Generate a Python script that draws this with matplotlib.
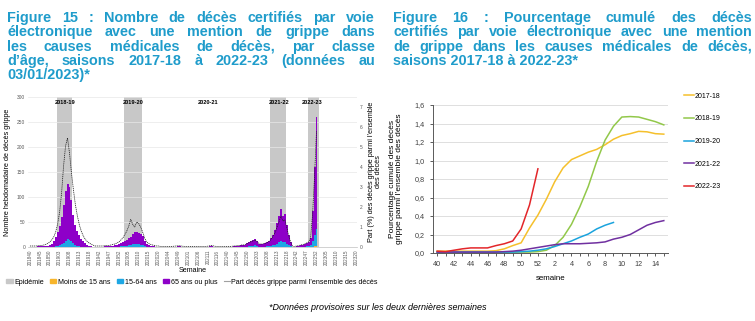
import numpy as np
import matplotlib
matplotlib.use('Agg')
from matplotlib import pyplot as plt
from matplotlib.patches import Patch
from matplotlib.lines import Line2D

plt.rcParams['font.family'] = ['Liberation Sans', 'DejaVu Sans']

TEAL = '#1f9ccb'
GREY_TXT = '#595959'

# ---------------- figure 15 : weekly deaths, 201840 -> 202252
seasons = ['2018-19', '2019-20', '2020-21', '2021-22', '2022-23']
season_label_week = ['201906', '202007', '202111', '202214', '202250']
epidemics = [('201902', '201909'), ('202003', '202011'),
             ('202210', '202217'), ('202248', '202301')]

deaths_65plus = (
    [1, 1, 1, 1, 2, 2, 2, 2, 3, 2, 4, 6, 11, 18, 27, 38, 54, 76, 99, 111, 105, 83, 57, 40, 29, 22, 16, 11, 7, 5, 3, 2, 1]
    + [1, 1, 1, 1, 1, 2, 2, 2, 3, 3, 4, 4, 5, 6, 8, 9, 12, 14, 16, 20, 23, 24, 22, 22, 18, 10, 5, 3, 3, 2, 2, 1, 1]
    + [1, 1, 0, 0, 0, 0, 0, 1, 1, 2, 2, 1, 0, 0, 0, 0, 0, 0, 0, 0, 0, 0, 0, 0, 1, 2, 3, 1, 0, 0, 0, 0, 0, 1]
    + [1, 1, 1, 2, 2, 3, 3, 4, 4, 4, 7, 8, 11, 11, 13, 10, 6, 5, 6, 7, 8, 11, 15, 21, 30, 41, 52, 65, 52, 56, 38, 21, 8]
    + [1, 1, 2, 2, 3, 4, 5, 6, 8, 14, 59, 136, 224]
)
deaths_15_64 = (
    [0, 0, 0, 0, 0, 0, 0, 0, 0, 1, 1, 1, 1, 2, 3, 4, 6, 8, 12, 15, 14, 11, 8, 5, 3, 2, 1, 1, 1, 0, 0, 0, 0]
    + [0, 0, 0, 0, 0, 0, 0, 0, 0, 0, 0, 1, 1, 2, 2, 3, 3, 4, 4, 5, 6, 6, 6, 5, 4, 2, 1, 1, 0, 0, 0, 0, 0]
    + [0] * 34
    + [0, 0, 0, 0, 0, 0, 0, 0, 0, 1, 1, 2, 2, 2, 3, 2, 1, 1, 1, 1, 2, 2, 3, 4, 5, 7, 9, 11, 10, 10, 7, 4, 2]
    + [0, 0, 0, 1, 1, 1, 1, 2, 2, 4, 12, 22, 33]
)
deaths_under15 = (
    [0] * 17 + [1, 1, 1, 1, 1] + [0] * 11
    + [0] * 19 + [1, 1, 1, 1] + [0] * 10
    + [0] * 34
    + [0] * 13 + [1, 1] + [0] * 11 + [1, 1, 1, 1] + [0] * 3
    + [0, 0, 0, 0, 0, 0, 0, 0, 0, 0, 1, 2, 3]
)
share_pct = (
    [0.05, 0.05, 0.05, 0.05, 0.06, 0.07, 0.08, 0.10, 0.13, 0.18, 0.25, 0.35, 0.50, 0.75, 1.15, 1.75, 2.70,
     4.05, 5.05, 5.45, 4.70, 3.70, 2.85, 2.10, 1.55, 1.10, 0.78, 0.55, 0.38, 0.27, 0.20, 0.14, 0.09]
    + [0.05, 0.05, 0.05, 0.05, 0.05, 0.07, 0.07, 0.08, 0.10, 0.13, 0.15, 0.20, 0.25, 0.35, 0.45, 0.63, 0.80,
       1.05, 1.38, 1.13, 1.00, 1.25, 1.18, 1.00, 0.75, 0.45, 0.25, 0.18, 0.13, 0.10, 0.08, 0.05, 0.05]
    + [0.03, 0.03, 0.03, 0.03, 0.03, 0.03, 0.03, 0.04, 0.05, 0.06, 0.06, 0.04, 0.03, 0.03, 0.03, 0.03, 0.03,
       0.03, 0.03, 0.03, 0.03, 0.03, 0.03, 0.03, 0.04, 0.06, 0.08, 0.05, 0.03, 0.03, 0.03, 0.03, 0.03, 0.03]
    + [0.03, 0.03, 0.03, 0.05, 0.05, 0.07, 0.07, 0.10, 0.10, 0.12, 0.18, 0.22, 0.28, 0.30, 0.35, 0.26, 0.16,
       0.14, 0.16, 0.18, 0.22, 0.28, 0.38, 0.52, 0.72, 0.98, 1.25, 1.55, 1.30, 1.35, 0.95, 0.55, 0.22]
    + [0.03, 0.03, 0.05, 0.07, 0.10, 0.12, 0.15, 0.20, 0.25, 0.45, 1.60, 3.50, 5.80]
)

# ---------------- figure 16 : cumulative share, weeks 40 -> 15
weeks16 = [40, 41, 42, 43, 44, 45, 46, 47, 48, 49, 50, 51, 52, 1, 2, 3, 4, 5, 6, 7, 8, 9, 10, 11, 12, 13, 14, 15]
cum_1718 = [0.02, 0.02, 0.02, 0.02, 0.02, 0.02, 0.02, 0.025, 0.045, 0.08, 0.11, 0.27, 0.41, 0.58,
            0.77, 0.92, 1.01, 1.05, 1.09, 1.12, 1.17, 1.23, 1.27, 1.29, 1.315, 1.31, 1.29, 1.285]
cum_1819 = [0.005, 0.005, 0.005, 0.005, 0.005, 0.005, 0.005, 0.005, 0.005, 0.01, 0.01, 0.01, 0.015, 0.03,
            0.08, 0.17, 0.31, 0.50, 0.72, 0.99, 1.22, 1.37, 1.47, 1.475, 1.47, 1.445, 1.42, 1.385]
cum_1920 = [0.01, 0.01, 0.01, 0.01, 0.01, 0.01, 0.01, 0.01, 0.01, 0.01, 0.015, 0.02, 0.03, 0.045,
            0.07, 0.10, 0.13, 0.17, 0.205, 0.26, 0.30, 0.33]
cum_2122 = [0.01, 0.01, 0.01, 0.01, 0.01, 0.01, 0.01, 0.01, 0.015, 0.02, 0.03, 0.045, 0.06, 0.075,
            0.09, 0.10, 0.10, 0.10, 0.105, 0.11, 0.12, 0.15, 0.17, 0.20, 0.25, 0.30, 0.33, 0.35]
cum_2223 = [0.02, 0.015, 0.03, 0.045, 0.055, 0.055, 0.055, 0.08, 0.10, 0.13, 0.26, 0.52, 0.91]

# week codes of the x axis of figure 15 (week 40 to week 20 of each season)
week_codes = []
for y in range(2018, 2023):
    last = 53 if y == 2020 else 52
    week_codes += [f"{y}{w:02d}" for w in range(40, last + 1)]
    week_codes += [f"{y + 1}{w:02d}" for w in range(1, 21)]
pos = {w: i for i, w in enumerate(week_codes)}

fig = plt.figure(figsize=(7.55, 3.21), dpi=100)
W, H = 755, 321


def justified(lines, x0, x1, y0, dy, **kw):
    r = fig.canvas.get_renderer()
    for k, line in enumerate(lines):
        y = 1 - (y0 + k * dy) / H
        if k == len(lines) - 1:
            fig.text(x0 / W, y, line, va='baseline', **kw)
            continue
        words = line.split(' ')
        widths = []
        for w in words:
            t = fig.text(0, 0, w, **kw)
            widths.append(t.get_window_extent(r).width)
            t.remove()
        gap = (x1 - x0 - sum(widths)) / (len(words) - 1)
        x = x0
        for w, wd in zip(words, widths):
            fig.text(x / W, y, w, va='baseline', **kw)
            x += wd + gap


tkw = dict(fontsize=10.4, fontweight='bold', color=TEAL)
justified(["Figure 15 : Nombre de décès certifiés par voie",
           "électronique avec une mention de grippe dans",
           "les causes médicales de décès, par classe",
           "d’âge, saisons 2017-18 à 2022-23 (données au",
           "03/01/2023)*"], 7, 375, 22, 14.3, **tkw)
justified(["Figure 16 : Pourcentage cumulé des décès",
           "certifiés par voie électronique avec une mention",
           "de grippe dans les causes médicales de décès,",
           "saisons 2017-18 à 2022-23*"], 393, 752, 22, 14.3, **tkw)

# ---------------- left chart
ax = fig.add_axes([28 / W, 1 - 247 / H, 329 / W, 150 / H])
x = np.arange(len(deaths_65plus))
o = np.array(deaths_under15)
b = np.array(deaths_15_64)
p = np.array(deaths_65plus)

for s, e in epidemics:
    ax.axvspan(pos[s] - 0.5, pos[e] + 0.5, color='#c8c8c8', lw=0, zorder=0)
ax.bar(x, o, width=1.0, color='#f7b52c', lw=0, zorder=2)
ax.bar(x, b, bottom=o, width=1.0, color='#1ea7e4', lw=0, zorder=2)
ax.bar(x, p, bottom=o + b, width=1.0, color='#8e00c8', lw=0, zorder=2)

for lab, wk in zip(seasons, season_label_week):
    ax.text(pos[wk], 288, lab, ha='center', va='center', fontsize=4.1, fontweight='bold', zorder=3)

ax.set_xlim(-1, len(week_codes) - 0.5)
ax.set_ylim(0, 300)
ax.set_yticks(range(0, 301, 50))
ax.set_xticks(range(0, len(week_codes), 5))
ax.set_xticklabels(week_codes[::5], rotation=90)
ax.tick_params(axis='x', labelsize=3.3, length=0, pad=2, colors=GREY_TXT)
ax.tick_params(axis='y', labelsize=3.5, length=0, pad=2, colors=GREY_TXT)
ax.grid(axis='y', color='#e8e8e8', lw=0.5, zorder=0)
ax.set_axisbelow(True)
for sp in ['top', 'right', 'left']:
    ax.spines[sp].set_visible(False)
ax.spines['bottom'].set_color('#bfbfbf')
ax.spines['bottom'].set_linewidth(0.5)
ax.set_ylabel('Nombre hebdomadaire de décès grippe', fontsize=5.2, labelpad=4)
ax.set_xlabel('Semaine', fontsize=5.1, labelpad=1)

ax2 = ax.twinx()
ax2.plot(x, share_pct, color='#202020', lw=0.55, ls=(0, (1.5, 1)), zorder=4)
ax2.set_ylim(0, 7.5)
ax2.set_yticks(range(0, 8))
ax2.tick_params(axis='y', labelsize=3.5, length=0, pad=2, colors=GREY_TXT)
for sp in ['top', 'right', 'left', 'bottom']:
    ax2.spines[sp].set_visible(False)
ax2.set_ylabel('Part (%) des décès grippe parmi l’ensemble\ndes décès', fontsize=5.2,
               labelpad=4, linespacing=1.0)

handles = [Patch(color='#c8c8c8'), Patch(color='#f7b52c'), Patch(color='#1ea7e4'),
           Patch(color='#8e00c8'), Line2D([], [], color='#a0a0a0', lw=0.8)]
labels = ['Epidémie', 'Moins de 15 ans', '15-64 ans', '65 ans ou plus',
          'Part décès grippe parmi l’ensemble des décès']
fig.legend(handles, labels, loc='center', bbox_to_anchor=(192 / W, 1 - 282 / H), ncol=5,
           frameon=False, fontsize=5.1, handlelength=0.9, handleheight=0.6,
           handletextpad=0.2, columnspacing=0.9)

# ---------------- right chart
bx = fig.add_axes([433 / W, 1 - 253 / H, 235 / W, 148 / H])
series = [(cum_1718, '2017-18', '#f5c02c'), (cum_1819, '2018-19', '#92c84a'),
          (cum_1920, '2019-20', '#1aa3dd'), (cum_2122, '2021-22', '#7030a0'),
          (cum_2223, '2022-23', '#e3262a')]
for vals, lab, col in series:
    bx.plot(range(len(vals)), vals, color=col, lw=1.1, label=lab)
bx.set_xlim(-0.5, len(weeks16) - 0.5)
bx.set_ylim(0, 1.6)
bx.set_yticks(np.arange(0, 1.61, 0.2))
bx.set_yticklabels([f"{v:.1f}".replace('.', ',') for v in np.arange(0, 1.61, 0.2)])
bx.set_xticks(range(len(weeks16)))
bx.set_xticklabels([str(w) if i % 2 == 0 else '' for i, w in enumerate(weeks16)])
bx.tick_params(labelsize=5.2, colors='#404040', length=2.5, width=0.6)
bx.grid(axis='y', color='#d9d9d9', lw=0.6)
bx.set_axisbelow(True)
for sp in ['top', 'right']:
    bx.spines[sp].set_visible(False)
for sp in ['left', 'bottom']:
    bx.spines[sp].set_color('#595959')
    bx.spines[sp].set_linewidth(0.7)
bx.set_ylabel('Pourcentage cumulé des décès\ngrippe parmi l’ensemble des décès', fontsize=6.0,
              labelpad=8, linespacing=1.15)
bx.set_xlabel('semaine', fontsize=5.7, labelpad=5)
bx.legend(loc='upper left', bbox_to_anchor=(681 / W, 1 - 90 / H), bbox_transform=fig.transFigure,
          frameon=False, fontsize=5.0, handlelength=1.4, handletextpad=0.1, labelspacing=2.25,
          borderaxespad=0)

fig.text(378 / W, 1 - 307 / H, '*Données provisoires sur les deux dernières semaines',
         ha='center', va='center', fontsize=6.5, style='italic')

fig.savefig('out.png', dpi=100)
